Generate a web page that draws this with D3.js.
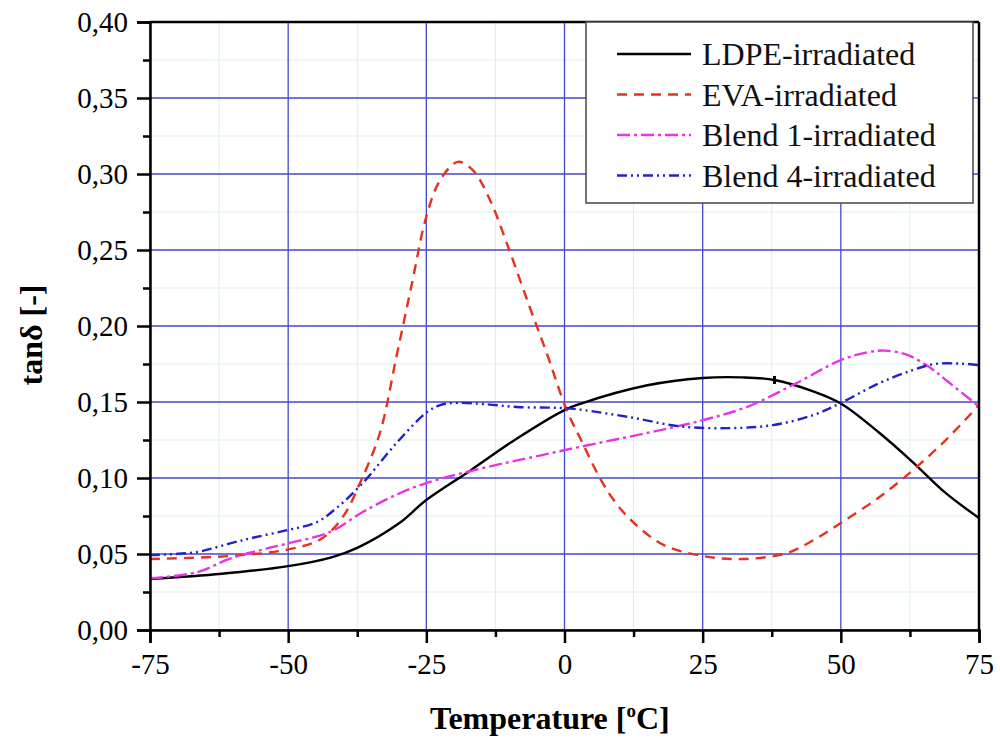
<!DOCTYPE html>
<html>
<head>
<meta charset="utf-8">
<script src="https://cdnjs.cloudflare.com/ajax/libs/d3/7.8.5/d3.min.js"></script>
<style>
  body { margin: 0; background: #fff; }
  svg { display: block; font-family: "Liberation Serif", "Times New Roman", serif; }
</style>
</head>
<body>
<svg id="chart" width="1000" height="742"></svg>
<script>
// tick values
const xTicks = [-75, -50, -25, 0, 25, 50, 75];
const xMinor = [-62.5, -37.5, -12.5, 12.5, 37.5, 62.5];
const yTicks = [0, 0.05, 0.10, 0.15, 0.20, 0.25, 0.30, 0.35, 0.40];
const yMinor = [0.025, 0.075, 0.125, 0.175, 0.225, 0.275, 0.325, 0.375];

// series: [temperature, tan delta]
const ldpe = [[-75, 0.0336], [-62, 0.037], [-50, 0.042], [-42, 0.048], [-37.5, 0.054], [-30, 0.070], [-25, 0.0855],
  [-17, 0.105], [-8.6, 0.126], [0, 0.1447], [3, 0.149], [15, 0.161], [25, 0.1658], [32, 0.1662], [38, 0.1645],
  [45, 0.157], [50, 0.149], [57, 0.1296], [63, 0.1105], [69, 0.090], [75, 0.0737]];
const eva = [[-75, 0.0467], [-60.5, 0.0487], [-50, 0.053], [-44, 0.060], [-40, 0.075], [-37, 0.0967],
  [-33.4, 0.1296], [-30.4, 0.18], [-27.6, 0.228], [-25, 0.272], [-22.5, 0.296], [-19.3, 0.308], [-16.6, 0.3026],
  [-13.5, 0.283], [-10, 0.25], [-6.3, 0.2125], [-3.2, 0.182], [0.4, 0.1447], [3, 0.125], [6.4, 0.100],
  [9, 0.085], [12.4, 0.071], [17.9, 0.056], [25, 0.0487], [32.3, 0.0467], [40.2, 0.0506], [45, 0.059],
  [50, 0.0704], [57, 0.0875], [63, 0.105], [69, 0.125], [75, 0.148]];
const blend1 = [[-75, 0.034], [-66.5, 0.038], [-60.5, 0.047], [-54.5, 0.053], [-50, 0.057], [-42.4, 0.0645],
  [-36.5, 0.0776], [-30.4, 0.089], [-25, 0.0967], [-14.7, 0.1066], [-5.7, 0.1138], [2.8, 0.1205],
  [14.9, 0.1296], [25, 0.138], [33, 0.1467], [42, 0.1625], [50, 0.1776], [55, 0.1828], [58, 0.1838],
  [62, 0.181], [66, 0.173], [69, 0.1645], [75, 0.147]];
const blend4 = [[-75, 0.0493], [-66.5, 0.0513], [-60.5, 0.057], [-56, 0.061], [-50, 0.0658], [-44.8, 0.071],
  [-41, 0.081], [-36.5, 0.0967], [-30.4, 0.123], [-25, 0.143], [-22.5, 0.148], [-19.5, 0.1494], [-14.7, 0.1487],
  [-8.6, 0.1467], [0, 0.146], [2.8, 0.145], [11.8, 0.140], [20.9, 0.134], [30, 0.1328], [37.7, 0.1348],
  [45, 0.1414], [50, 0.1494], [57, 0.1625], [63, 0.171], [67, 0.175], [72, 0.1752], [75, 0.1743]];

const seriesNames = ["LDPE-irradiated", "EVA-irradiated", "Blend 1-irradiated", "Blend 4-irradiated"];

const series = [
  { name: seriesNames[0], data: ldpe, color: "#000000", dash: null },
  { name: seriesNames[1], data: eva, color: "#e8301e", dash: "10,7" },
  { name: seriesNames[2], data: blend1, color: "#e535e5", dash: "13,4,3,4" },
  { name: seriesNames[3], data: blend4, color: "#2222c8", dash: "10,4,2,4,2,4" }
];

const svg = d3.select("#chart");
const plotLeft = 150, plotRight = 979, plotTop = 22, plotBottom = 630;

const x = d3.scaleLinear().domain([-75, 75]).range([plotLeft, plotRight]);
const y = d3.scaleLinear().domain([0, 0.40]).range([plotBottom, plotTop]);

// minor grid (very faint)
const grid = svg.append("g");
grid.selectAll(".vminor").data(xMinor).enter().append("line")
  .attr("x1", d => x(d)).attr("x2", d => x(d)).attr("y1", plotTop).attr("y2", plotBottom)
  .attr("stroke", "#dcefe8").attr("stroke-width", 1);
grid.selectAll(".hminor").data(yMinor).enter().append("line")
  .attr("x1", plotLeft).attr("x2", plotRight).attr("y1", d => y(d)).attr("y2", d => y(d))
  .attr("stroke", "#dcefe8").attr("stroke-width", 1);

// major grid (blue)
grid.selectAll(".vmajor").data(xTicks).enter().append("line")
  .attr("x1", d => x(d)).attr("x2", d => x(d)).attr("y1", plotTop).attr("y2", plotBottom)
  .attr("stroke", "#4646cc").attr("stroke-width", 1.3);
grid.selectAll(".hmajor").data(yTicks).enter().append("line")
  .attr("x1", plotLeft).attr("x2", plotRight).attr("y1", d => y(d)).attr("y2", d => y(d))
  .attr("stroke", "#4646cc").attr("stroke-width", 1.3);

// curves
const line = d3.line()
  .x(d => x(d[0]))
  .y(d => y(d[1]))
  .curve(d3.curveCatmullRom.alpha(0.5));

svg.append("g").selectAll("path")
  .data(series)
  .enter()
  .append("path")
  .attr("d", d => line(d.data))
  .attr("fill", "none")
  .attr("stroke", d => d.color)
  .attr("stroke-width", 2.4)
  .attr("stroke-dasharray", d => d.dash);

// small mark on the LDPE curve
svg.append("line")
  .attr("x1", x(38)).attr("x2", x(38))
  .attr("y1", y(0.1645) - 4).attr("y2", y(0.1645) + 4)
  .attr("stroke", "#000").attr("stroke-width", 3);

// axes
const fmt = d => d3.format(".2f")(d).replace(".", ",");
const fmtX = d => String(d); // plain hyphen minus like the original

svg.append("g")
  .attr("transform", `translate(0,${plotBottom})`)
  .call(d3.axisBottom(x).tickValues(xTicks).tickSize(13).tickPadding(10).tickFormat(fmtX));
svg.append("g")
  .attr("transform", `translate(0,${plotBottom})`)
  .call(d3.axisBottom(x).tickValues(xMinor).tickSize(7).tickFormat(""))
  .call(g => g.select(".domain").remove());

svg.append("g")
  .attr("transform", `translate(${plotLeft},0)`)
  .call(d3.axisLeft(y).tickValues(yTicks).tickSize(13).tickPadding(9).tickFormat(fmt));
svg.append("g")
  .attr("transform", `translate(${plotLeft},0)`)
  .call(d3.axisLeft(y).tickValues(yMinor).tickSize(7).tickFormat(""))
  .call(g => g.select(".domain").remove());

svg.selectAll(".tick line").attr("stroke", "#000").attr("stroke-width", 2.5);
svg.selectAll(".domain").attr("stroke", "#000").attr("stroke-width", 2.5);
svg.selectAll(".tick text")
  .attr("fill", "#000")
  .style("font-family", "'Liberation Serif', 'Times New Roman', serif")
  .style("font-size", "29px");

// top and right frame
svg.append("line").attr("x1", plotLeft).attr("x2", plotRight).attr("y1", plotTop).attr("y2", plotTop)
  .attr("stroke", "#000").attr("stroke-width", 2.5);
svg.append("line").attr("x1", plotRight).attr("x2", plotRight).attr("y1", plotTop).attr("y2", plotBottom)
  .attr("stroke", "#000").attr("stroke-width", 2.5);

// legend
const legend = svg.append("g");
legend.append("rect")
  .attr("x", 586).attr("y", plotTop).attr("width", 387).attr("height", 181)
  .attr("fill", "#fff").attr("stroke", "#444").attr("stroke-width", 1.5);

const rows = legend.selectAll(".row").data(series).enter().append("g")
  .attr("transform", (d, i) => `translate(0,${54 + i * 40.5})`);
rows.append("line")
  .attr("x1", 617).attr("x2", 691).attr("y1", 0).attr("y2", 0)
  .attr("stroke", d => d.color)
  .attr("stroke-width", 2.4)
  .attr("stroke-dasharray", d => d.dash);
rows.append("text")
  .attr("x", 702).attr("y", 11)
  .style("font-size", "32px")
  .attr("fill", "#111")
  .text(d => d.name);

// axis titles
const xt = svg.append("text")
  .attr("x", 430).attr("y", 729)
  .style("font-size", "32px").style("font-weight", "bold")
  .text("Temperature [");
xt.append("tspan").attr("dy", -12).style("font-size", "19px").text("o");
xt.append("tspan").attr("dy", 12).text("C]");

svg.append("text")
  .attr("transform", "translate(42,335) rotate(-90)")
  .attr("text-anchor", "middle")
  .style("font-size", "32px").style("font-weight", "bold")
  .text("tanδ [-]");
</script>
</body>
</html>
